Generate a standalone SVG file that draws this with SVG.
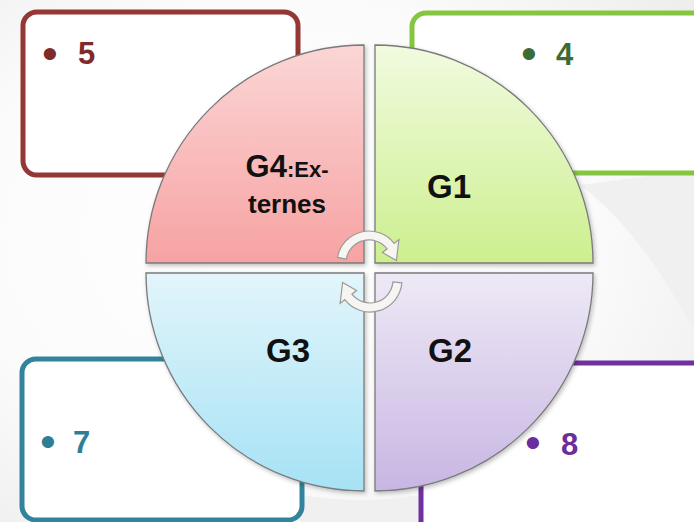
<svg xmlns="http://www.w3.org/2000/svg" width="694" height="522" viewBox="0 0 694 522">
<defs>
<radialGradient id="bg" cx="0.4" cy="0.45" r="0.75">
<stop offset="0" stop-color="#ffffff"/>
<stop offset="0.6" stop-color="#fbfbfb"/>
<stop offset="1" stop-color="#ededed"/>
</radialGradient>
<linearGradient id="gPink" x1="0" y1="0" x2="0" y2="1">
<stop offset="0" stop-color="#fbd6d6"/>
<stop offset="1" stop-color="#f7a2a2"/>
</linearGradient>
<linearGradient id="gGreen" x1="0" y1="0" x2="0" y2="1">
<stop offset="0" stop-color="#f1fbe0"/>
<stop offset="1" stop-color="#cdef8f"/>
</linearGradient>
<linearGradient id="gBlue" x1="0" y1="0" x2="0" y2="1">
<stop offset="0" stop-color="#e2f5fb"/>
<stop offset="1" stop-color="#a6e2f5"/>
</linearGradient>
<linearGradient id="gPurple" x1="0" y1="0" x2="0" y2="1">
<stop offset="0" stop-color="#eee9f6"/>
<stop offset="1" stop-color="#c8b6e3"/>
</linearGradient>
<filter id="sh" x="-10%" y="-10%" width="120%" height="120%">
<feDropShadow dx="1.5" dy="2" stdDeviation="2" flood-color="#000" flood-opacity="0.25"/>
</filter>
</defs>
<style>
.box{fill:#ffffff;stroke-width:5}
.q{stroke:#7a7a7a;stroke-width:1.3;filter:url(#sh)}
.lbl{font-family:"Liberation Sans",Arial,sans-serif;font-weight:bold;fill:#111111;text-anchor:middle}
.num{font-family:"Liberation Sans",Arial,sans-serif;font-weight:bold;font-size:31px}
.bul{font-family:"Liberation Sans",Arial,sans-serif;font-size:45px}
.arr{fill:#f7f5f1;stroke:#9a9a9a;stroke-width:1.2}
</style>
<rect width="694" height="522" fill="url(#bg)"/>
<path d="M580 185 Q640 230 694 330 L694 170 Z" fill="#f0f0f0"/>
<path d="M300 522 L300 495 Q360 505 420 495 L420 522 Z" fill="#f0f0f0"/>

<g id="box5">
<rect class="box" x="23" y="12" width="275" height="163" rx="14" stroke="#953735"/>
<text class="bul" x="42" y="68.5" fill="#7f2b2a">•</text>
<text class="num" x="78" y="64" fill="#7f2b2a">5</text>
</g>
<g id="box4">
<rect class="box" x="412" y="13" width="300" height="160" rx="14" stroke="#86c540"/>
<text class="bul" x="521" y="68.5" fill="#3d6b37">•</text>
<text class="num" x="556" y="65" fill="#3d6b37">4</text>
</g>
<g id="box7">
<rect class="box" x="22" y="359" width="280" height="161" rx="14" stroke="#31849b"/>
<text class="bul" x="40" y="456.5" fill="#2e7f95">•</text>
<text class="num" x="73" y="453" fill="#2e7f95">7</text>
</g>
<g id="box8">
<rect class="box" x="421" y="363" width="300" height="200" rx="14" stroke="#7030a0"/>
<text class="bul" x="525" y="457.5" fill="#6a2d9c">•</text>
<text class="num" x="561" y="455" fill="#6a2d9c">8</text>
</g>

<g id="G4">
<path class="q" d="M364 263 L146 263 A218 218 0 0 1 364 45 Z" fill="url(#gPink)"/>
<text class="lbl" x="287" y="177"><tspan font-size="31px">G4</tspan><tspan font-size="22px">:Ex-</tspan></text>
<text class="lbl" x="287" y="213" font-size="26px">ternes</text>
</g>
<g id="G1">
<path class="q" d="M375 263 L375 45 A218 218 0 0 1 593 263 Z" fill="url(#gGreen)"/>
<text class="lbl" x="449" y="198" font-size="33px">G1</text>
</g>
<g id="G3">
<path class="q" d="M364 273 L364 491 A218 218 0 0 1 146 273 Z" fill="url(#gBlue)"/>
<text class="lbl" x="288" y="362" font-size="33px">G3</text>
</g>
<g id="G2">
<path class="q" d="M375 273 L593 273 A218 218 0 0 1 375 491 Z" fill="url(#gPurple)"/>
<text class="lbl" x="450" y="362" font-size="33px">G2</text>
</g>

<g id="connectors">
<path class="arr" d="M337.5 257.4 A32 32 0 0 1 394.2 243.3 L398.9 239.6 L396.4 260.6 L382.4 252.5 L387.1 248.8 A23 23 0 0 0 346.3 259 Z"/>
<path class="arr" d="M401.9 282.8 A32 32 0 0 1 344.8 299.7 L340.1 303.4 L342.6 282.4 L356.6 290.5 L351.9 294.2 A23 23 0 0 0 392.9 282 Z"/>
</g>
</svg>
